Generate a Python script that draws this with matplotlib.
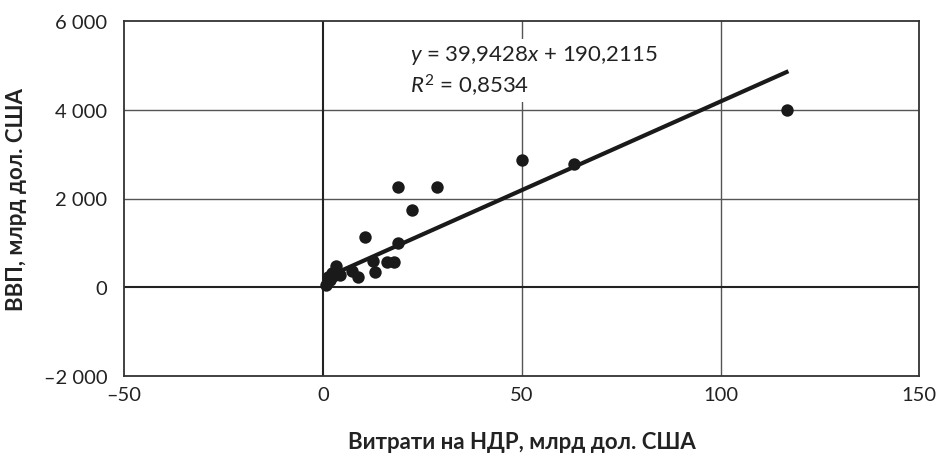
import matplotlib
matplotlib.use("Agg")
import matplotlib.pyplot as plt
from matplotlib.ticker import FuncFormatter
import numpy as np

# R&D spending vs GDP
rd_spend = [0.8, 1.2, 1.8, 2.2, 2.6, 3.4, 3.8, 4.3, 7.2, 8.9, 10.6, 12.6, 13.2,
            16.0, 17.9, 18.9, 18.9, 22.3, 28.8, 50.2, 63.1, 116.6]
gdp = [60, 230, 160, 320, 250, 470, 330, 280, 370, 240, 1130, 590, 350,
       570, 570, 990, 2250, 1750, 2250, 2870, 2780, 4000]
slope, intercept = 39.9428, 190.2115
eq_text = r"$\it{y}$ = 39,9428$\it{x}$ + 190,2115"
r2_text = r"$\it{R}^2$ = 0,8534"
x_title = "Витрати на НДР, млрд дол. США"
y_title = "ВВП, млрд дол. США"

plt.rcParams['font.family'] = ['Lato', 'DejaVu Sans']
plt.rcParams['mathtext.fontset'] = 'custom'
plt.rcParams['mathtext.rm'] = 'Lato'
plt.rcParams['mathtext.it'] = 'Lato:italic'

fig = plt.figure(figsize=(9.4, 4.56), dpi=100)
ax = fig.add_axes([0.132, 0.173, 0.846, 0.779])

ax.set_xlim(-50, 150)
ax.set_ylim(-2000, 6000)
ax.set_xticks([-50, 0, 50, 100, 150])
ax.set_yticks([-2000, 0, 2000, 4000, 6000])

def fmt(v, pos):
    s = f"{abs(int(v)):,}".replace(",", " ")
    return ("–" + s) if v < 0 else s

ax.xaxis.set_major_formatter(FuncFormatter(fmt))
ax.yaxis.set_major_formatter(FuncFormatter(fmt))
ax.tick_params(length=0, labelsize=14.5, colors='#222222')
ax.tick_params(axis='y', pad=12)
ax.tick_params(axis='x', pad=7)

# grid
for gx in [50, 100]:
    ax.axvline(gx, color='#555555', lw=1.0, zorder=1)
for gy in [2000, 4000]:
    ax.axhline(gy, color='#555555', lw=1.0, zorder=1)
ax.axvline(0, color='#222222', lw=1.5, zorder=1)
ax.axhline(0, color='#222222', lw=1.5, zorder=1)
for sp in ax.spines.values():
    sp.set_color('#333333')
    sp.set_linewidth(1.3)

# trend line from min to max x
xs = np.array([min(rd_spend), max(rd_spend)])
ax.plot(xs, slope * xs + intercept, color='#1a1a1a', lw=3, zorder=2)
ax.scatter(rd_spend, gdp, s=80, color='#1a1a1a', zorder=3, linewidths=0)

ax.text(0.36, 0.905, eq_text, transform=ax.transAxes, fontsize=16,
        va='center', ha='left', color='#222222',
        bbox=dict(facecolor='white', edgecolor='none', pad=3))
ax.text(0.36, 0.82, r2_text, transform=ax.transAxes, fontsize=16,
        va='center', ha='left', color='#222222',
        bbox=dict(facecolor='white', edgecolor='none', pad=3))

ax.set_xlabel(x_title, fontsize=16, fontweight='bold', labelpad=20, color='#222222')
ax.set_ylabel(y_title, fontsize=16, fontweight='bold', labelpad=12, color='#222222')

fig.savefig("out.png", dpi=100)
